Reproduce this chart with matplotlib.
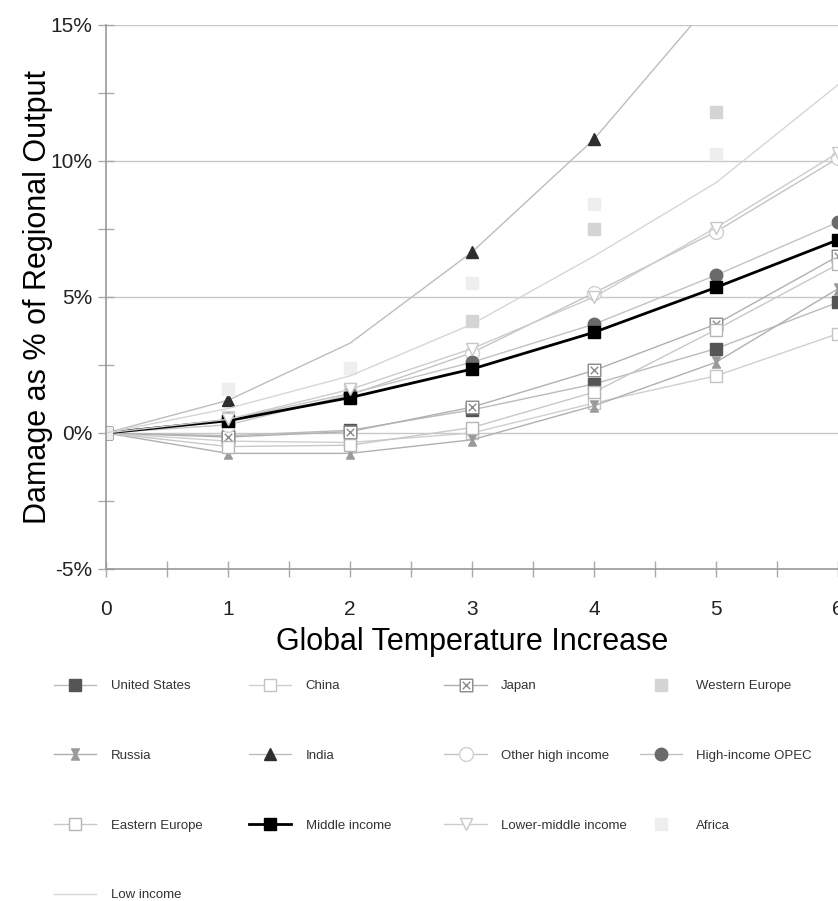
import numpy as np
import matplotlib
matplotlib.use("Agg")
import matplotlib.pyplot as plt
from matplotlib.path import Path

plt.rcParams['font.family'] = ['Liberation Sans', 'DejaVu Sans']

temps = [0, 1, 2, 3, 4, 5, 6]

# damage as % of regional output at each degree of warming
us = [0, -0.1, 0.1, 0.85, 1.8, 3.1, 4.8]
china = [0, -0.3, -0.35, 0.0, 1.1, 2.1, 3.65]
japan = [0, -0.15, 0.05, 0.95, 2.3, 4.0, 6.5]
w_europe = [0, 0.6, 1.6, 4.1, 7.5, 11.8, np.nan]
russia = [0, -0.75, -0.75, -0.25, 1.0, 2.6, 5.3]
india = [0, 1.2, 3.3, 6.65, 10.8, 16.05, 22.0]
other_high = [0, 0.3, 1.4, 2.95, 5.15, 7.4, 10.1]
opec = [0, 0.5, 1.45, 2.6, 4.0, 5.8, 7.75]
e_europe = [0, -0.5, -0.45, 0.2, 1.5, 3.8, 6.2]
middle = [0, 0.45, 1.3, 2.35, 3.7, 5.35, 7.1]
lower_middle = [0, 0.5, 1.6, 3.1, 5.0, 7.55, 10.3]
africa = [0, 1.6, 2.4, 5.5, 8.4, 10.25, np.nan]
low_income = [0, 0.9, 2.1, 4.0, 6.5, 9.2, 12.8]

hourglass = Path([(-0.7, 1), (0.7, 1), (0.15, 0), (0.7, -1), (-0.7, -1), (-0.15, 0), (-0.7, 1)],
                 [Path.MOVETO] + [Path.LINETO] * 5 + [Path.CLOSEPOLY])
boxed_x = Path([(-1, -1), (1, -1), (1, 1), (-1, 1), (-1, -1), (-0.6, -0.6), (0.6, 0.6),
                (-0.6, 0.6), (0.6, -0.6)],
               [Path.MOVETO, Path.LINETO, Path.LINETO, Path.LINETO, Path.CLOSEPOLY,
                Path.MOVETO, Path.LINETO, Path.MOVETO, Path.LINETO])

fig = plt.figure(figsize=(8.38, 9.01), dpi=100)
ax = fig.add_axes([0.1265, 0.3685, 0.8735, 0.6038])

series = [
    ("United States", us, dict(color="#bbbbbb", marker="s", mfc="#555555", mec="#555555", ms=8)),
    ("China", china, dict(color="#cfcfcf", marker="s", mfc="white", mec="#c4c4c4", ms=9)),
    ("Japan", japan, dict(color="#b0b0b0", marker=boxed_x, mfc="white", mec="#8a8a8a", ms=9)),
    ("Western Europe", w_europe, dict(color="none", marker="s", mfc="#d4d4d4", mec="#d4d4d4", ms=8)),
    ("Russia", russia, dict(color="#b0b0b0", marker=hourglass, mfc="#9a9a9a", mec="#9a9a9a", ms=8)),
    ("India", india, dict(color="#bdbdbd", marker="^", mfc="#2e2e2e", mec="#2e2e2e", ms=9,
                          markevery=[1, 3, 4, 5, 6])),
    ("Other high income", other_high, dict(color="#c4c4c4", marker="o", mfc="white", mec="#d0d0d0", ms=10)),
    ("High-income OPEC", opec, dict(color="#c2c2c2", marker="o", mfc="#6a6a6a", mec="#6a6a6a", ms=9)),
    ("Eastern Europe", e_europe, dict(color="#c8c8c8", marker="s", mfc="white", mec="#b5b5b5", ms=9)),
    ("Middle income", middle, dict(color="black", lw=2.0, marker="s", mfc="black", mec="black", ms=9)),
    ("Lower-middle income", lower_middle, dict(color="#cccccc", marker="v", mfc="white", mec="#c8c8c8", ms=8)),
    ("Africa", africa, dict(color="none", marker="s", mfc="#eeeeee", mec="#eeeeee", ms=8)),
    ("Low income", low_income, dict(color="#d6d6d6", marker="None")),
]

handles = {}
for name, vals, style in series:
    style.setdefault("lw", 1.0)
    line, = ax.plot(temps, vals, label=name, **style)
    handles[name] = line

ax.set_xlim(0, 6)
ax.set_ylim(-5, 15)
ax.set_yticks([-5, 0, 5, 10, 15])
ax.set_yticklabels(["-5%", "0%", "5%", "10%", "15%"])
ax.set_yticks([-2.5, 2.5, 7.5, 12.5], minor=True)
ax.set_xticks(temps)
ax.set_xticks(np.arange(0.5, 6, 1), minor=True)
ax.yaxis.grid(True, which="major", color="#c8c8c8", lw=1.0)
ax.set_axisbelow(True)

for side in ["top", "right"]:
    ax.spines[side].set_visible(False)
for side in ["left", "bottom"]:
    ax.spines[side].set_color("#9a9a9a")
    ax.spines[side].set_linewidth(1.2)

ax.tick_params(which="both", direction="inout", color="#aaaaaa", labelsize=15,
               labelcolor="#222222", length=12, width=1.0)
ax.tick_params(axis="x", pad=16)
ax.tick_params(axis="y", pad=4)
ax.set_ylabel("Damage as % of Regional Output", fontsize=22, labelpad=-2)
ax.set_xlabel("Global Temperature Increase", fontsize=22, labelpad=6)

# four legend columns, filled row by row
columns = [
    ["United States", "Russia", "Eastern Europe", "Low income"],
    ["China", "India", "Middle income"],
    ["Japan", "Other high income", "Lower-middle income"],
    ["Western Europe", "High-income OPEC", "Africa"],
]
col_x = [0.058, 0.291, 0.524, 0.757]
for cx, names in zip(col_x, columns):
    fig.legend([handles[n] for n in names], names, loc="upper left",
               bbox_to_anchor=(cx, 0.251), frameon=False, fontsize=9.5,
               labelspacing=4.35, handlelength=3.2, handletextpad=1.1,
               labelcolor="#333333", borderaxespad=0)

fig.savefig("out.png", dpi=100)
